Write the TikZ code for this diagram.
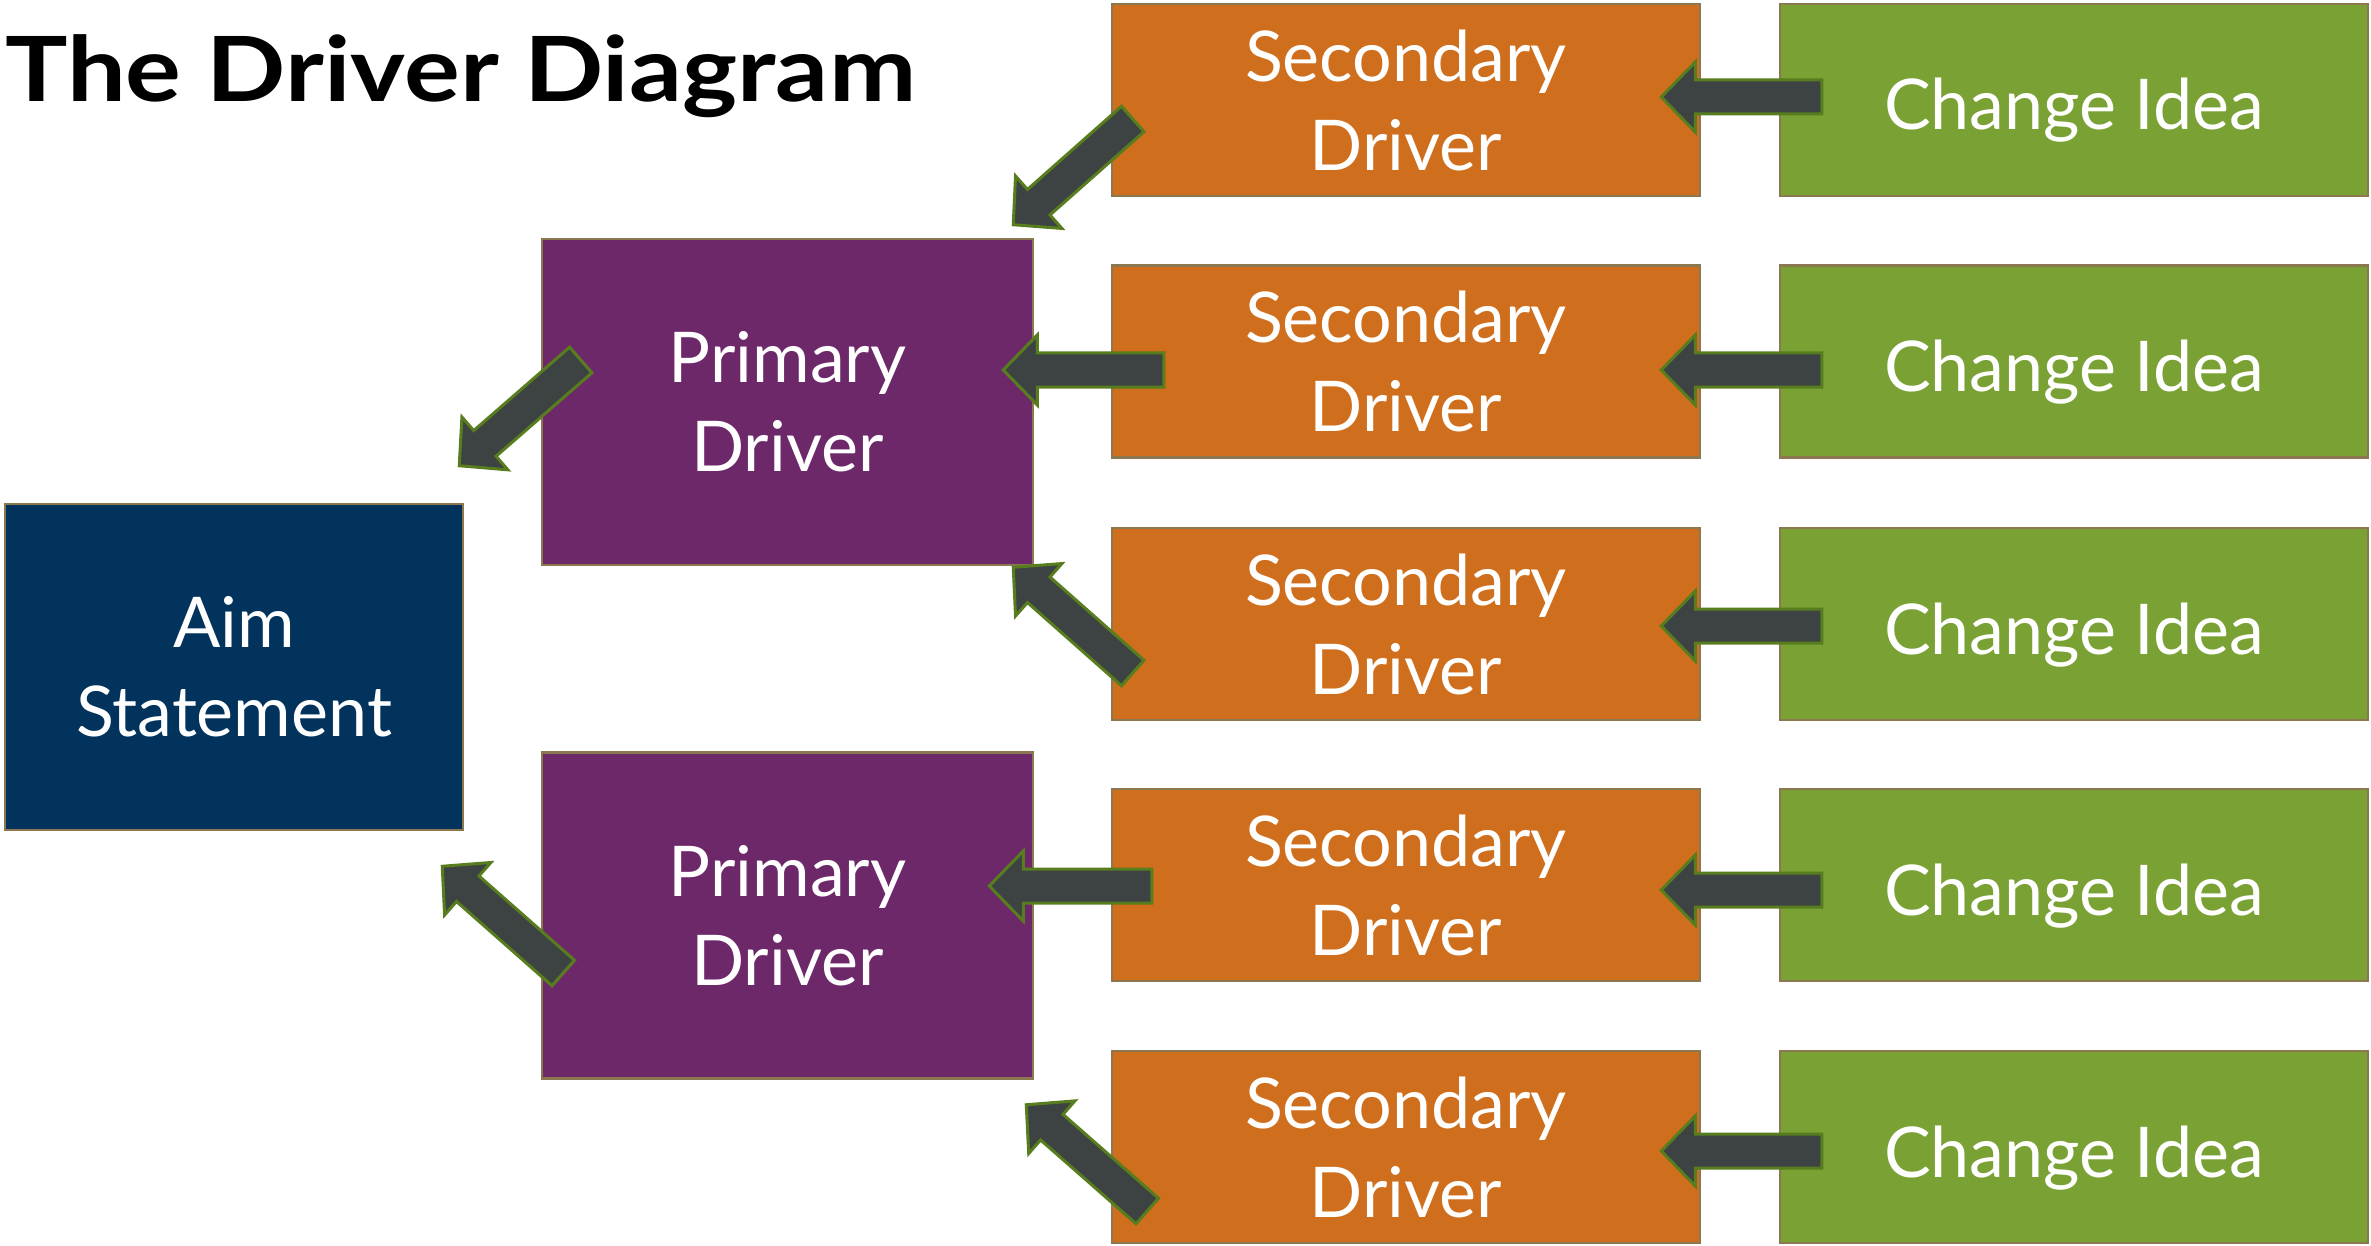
\documentclass[tikz,border=0pt]{standalone}
\usepackage{fontspec}
\setmainfont{Lato}
\usetikzlibrary{calc}

\definecolor{aimblue}{HTML}{02335D}
\definecolor{primpurple}{HTML}{6D286A}
\definecolor{secorange}{HTML}{CF6E1C}
\definecolor{ideagreen}{HTML}{7AA134}
\definecolor{boxedge}{HTML}{8C7850}
\definecolor{arrowfill}{HTML}{3D4343}
\definecolor{arrowedge}{HTML}{577D1E}

\tikzset{
  box/.style={draw=boxedge, line width=2.5pt, inner sep=0pt, text=white,
    align=center, font=\fontsize{70}{89}\selectfont,
    minimum width=588pt, minimum height=192pt},
  aimbox/.style={box, fill=aimblue, minimum width=458pt, minimum height=326pt},
  primbox/.style={box, fill=primpurple, minimum width=491pt, minimum height=326pt},
  secbox/.style={box, fill=secorange},
  ideabox/.style={box, fill=ideagreen, text height=60pt, text depth=0pt},
  blockarrow/.style={fill=arrowfill, draw=arrowedge, line width=3pt, line join=miter},
  titletext/.style={anchor=base west, inner sep=0pt,
    font=\fontsize{90}{90}\selectfont\bfseries},
}

% broad block arrow from #1 (tail) to #2 (tip)
\newcommand\fatarrow[2]{%
  \coordinate (fa-base) at ($(#2)!34pt!(#1)$);
  \draw[blockarrow] ($(#1)!17pt!90:(#2)$) -- ($(fa-base)!17pt!90:(#2)$)
    -- ($(fa-base)!35pt!90:(#2)$) -- (#2) -- ($(fa-base)!35pt!-90:(#2)$)
    -- ($(fa-base)!17pt!-90:(#2)$) -- ($(#1)!17pt!-90:(#2)$) -- cycle;}

\begin{document}
\begin{tikzpicture}[x=1pt, y=-1pt]
\useasboundingbox (0,0) rectangle (2371,1246);

\node[titletext] (title) at (5,102) {\scalebox{1.16}[1]{The Driver Diagram}};

% aim and primary drivers
\node[aimbox]  (aim) at (234,667)    {Aim\\Statement};
\node[primbox] (pd1) at (787.5,402)  {Primary\\Driver};
\node[primbox] (pd2) at (787.5,915.5) {Primary\\Driver};

% secondary drivers and change ideas, one row each
\foreach \i/\y in {1/100, 2/361.5, 3/624, 4/885, 5/1147} {
  \node[secbox]  (sd\i) at (1406,\y) {Secondary\\Driver};
  \node[ideabox] (ci\i) at (2074,\y) {Change Idea};
}

% change idea -> secondary driver
\foreach \i/\dy in {1/-3, 2/8.5, 3/2, 4/5, 5/4} {
  \coordinate (ct\i) at ($(ci\i.west)+(43,\dy)$);
  \coordinate (ch\i) at ($(sd\i.east)+(-40,\dy)$);
  \fatarrow{ct\i}{ch\i}
}

% secondary driver -> primary driver
\coordinate (s1t) at ($(sd1.west)+(22,19)$);
\coordinate (s1h) at ($(pd1.north east)+(-21,-13)$);
\fatarrow{s1t}{s1h}
\coordinate (s2t) at ($(sd2.west)+(53,8.5)$);
\coordinate (s2h) at ($(pd1.east)+(-31,-32)$);
\fatarrow{s2t}{s2h}
\coordinate (s3t) at ($(sd3.west)+(22,49)$);
\coordinate (s3h) at ($(pd1.south east)+(-21,1)$);
\fatarrow{s3t}{s3h}
\coordinate (s4t) at ($(sd4.west)+(41,1)$);
\coordinate (s4h) at ($(pd2.east)+(-45,-29.5)$);
\fatarrow{s4t}{s4h}
\coordinate (s5t) at ($(sd5.west)+(36.5,64)$);
\coordinate (s5h) at ($(pd2.south east)+(-8,25)$);
\fatarrow{s5t}{s5h}

% primary driver -> aim
\coordinate (p1t) at ($(pd1.west)+(40,-42)$);
\coordinate (p1h) at ($(aim.north east)+(-5,-37)$);
\fatarrow{p1t}{p1h}
\coordinate (p2t) at ($(pd2.west)+(22.5,57.5)$);
\coordinate (p2h) at ($(aim.south east)+(-22,35)$);
\fatarrow{p2t}{p2h}
\end{tikzpicture}
\end{document}
